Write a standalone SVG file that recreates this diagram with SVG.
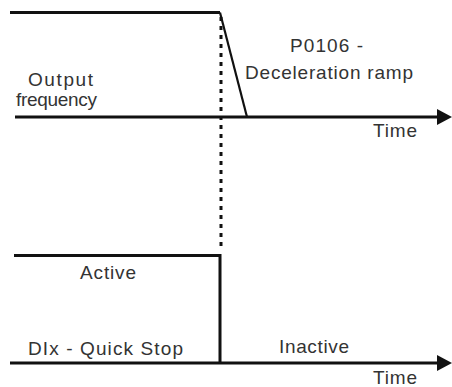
<svg xmlns="http://www.w3.org/2000/svg" width="452" height="387" viewBox="0 0 452 387">
<style>
.ln{stroke:#111;stroke-width:3;fill:none}
.ramp{stroke:#111;stroke-width:2.2;fill:none}
.dot{stroke:#111;stroke-width:3;stroke-dasharray:4 5;fill:none}
.ah{fill:#111}
text{font-family:"Liberation Sans",Arial,sans-serif;font-size:19px;fill:#333}
</style>
<rect width="452" height="387" fill="#fff"/>
<g id="connectors">
<path class="ln" d="M10,12.5 H220"/>
<path class="ramp" d="M220,12.5 L247,117"/>
<path class="ln" d="M15,117 H440"/>
<polygon class="ah" points="437,109 452,117 437,125"/>
<path class="dot" d="M221,17 V250"/>
<path class="ln" d="M14,255.5 H220 V363"/>
<path class="ln" d="M10,363 H440"/>
<polygon class="ah" points="437,355 452,363 437,371"/>
</g>
<g id="label-ramp">
<text x="290" y="52" textLength="73" lengthAdjust="spacing">P0106 -</text>
<text x="245" y="79" textLength="168" lengthAdjust="spacing">Deceleration ramp</text>
</g>
<g id="label-output">
<text x="28" y="86" textLength="65" lengthAdjust="spacing">Output</text>
<text x="16" y="106" textLength="81" lengthAdjust="spacing">frequency</text>
</g>
<g id="label-time1">
<text x="373" y="137" textLength="44" lengthAdjust="spacing">Time</text>
</g>
<g id="label-active">
<text x="80" y="279" textLength="56" lengthAdjust="spacing">Active</text>
</g>
<g id="label-quickstop">
<text x="28" y="355" textLength="155" lengthAdjust="spacing">DIx - Quick Stop</text>
</g>
<g id="label-inactive">
<text x="279" y="353" textLength="70" lengthAdjust="spacing">Inactive</text>
</g>
<g id="label-time2">
<text x="373" y="384" textLength="44" lengthAdjust="spacing">Time</text>
</g>
</svg>
